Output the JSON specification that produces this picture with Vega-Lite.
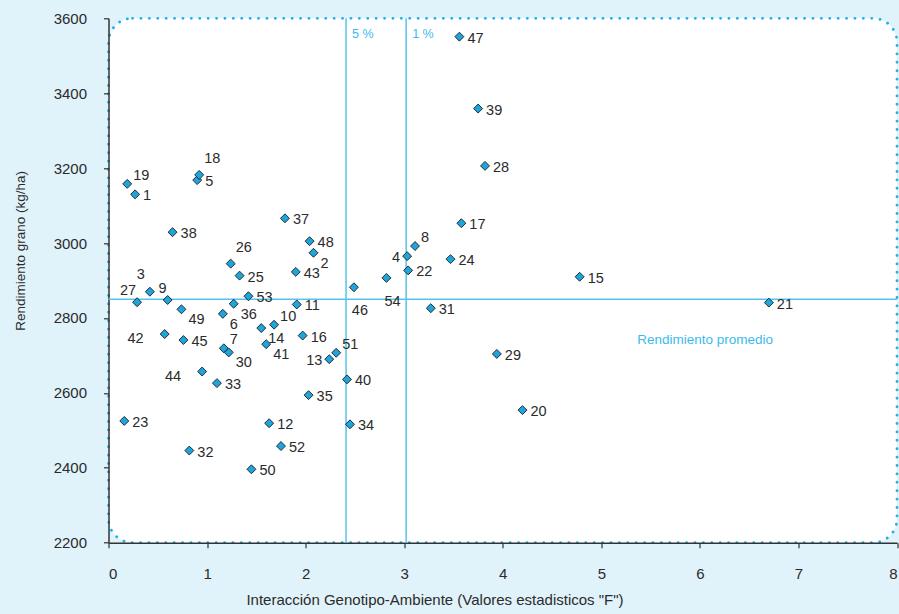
{
  "$schema": "https://vega.github.io/schema/vega-lite/v6.json",
  "width": 788.5,
  "height": 524.4,
  "autosize": "none",
  "padding": {"left": 108.5, "top": 18.3, "right": 2, "bottom": 71.3},
  "background": "#e0f2fa",
  "config": {
    "view": {"fill": "white", "stroke": "#1eb0ea", "strokeWidth": 2.8, "strokeDash": [0.1, 8.3], "strokeCap": "round", "cornerRadius": 24},
    "axis": {"domainColor": "#333333", "domainWidth": 1.5, "tickColor": "#333333", "tickSize": 5, "tickWidth": 1.2, "grid": false, "labelFont": "Liberation Sans", "labelFontSize": 15, "labelColor": "#2b2b2b", "titleFont": "Liberation Sans", "titleFontWeight": "normal", "titleColor": "#2b2b2b"},
    "axisX": {"labelPadding": 19, "titlePadding": 11, "titleX": 326, "titleFontSize": 15},
    "axisY": {"labelPadding": 17, "titlePadding": 26, "titleY": 232, "titleFontSize": 13.5},
    "text": {"font": "Liberation Sans", "fontSize": 14.5, "color": "#2b2b2b", "baseline": "middle"}
  },
  "datasets": {
    "genotipos": [
      {"genotipo": "1", "F": 0.27, "rendimiento": 3130, "posicion": "der"},
      {"genotipo": "2", "F": 2.08, "rendimiento": 2974, "posicion": "abj-der"},
      {"genotipo": "3", "F": 0.42, "rendimiento": 2870, "posicion": "arr-izq2"},
      {"genotipo": "4", "F": 3.03, "rendimiento": 2965, "posicion": "izq"},
      {"genotipo": "5", "F": 0.90, "rendimiento": 3168, "posicion": "der"},
      {"genotipo": "6", "F": 1.16, "rendimiento": 2811, "posicion": "abj-der"},
      {"genotipo": "7", "F": 1.17, "rendimiento": 2719, "posicion": "arr-der"},
      {"genotipo": "8", "F": 3.11, "rendimiento": 2992, "posicion": "arr-der"},
      {"genotipo": "9", "F": 0.60, "rendimiento": 2848, "posicion": "arr-izq"},
      {"genotipo": "10", "F": 1.68, "rendimiento": 2782, "posicion": "arr-der"},
      {"genotipo": "11", "F": 1.91, "rendimiento": 2836, "posicion": "der"},
      {"genotipo": "12", "F": 1.63, "rendimiento": 2519, "posicion": "der"},
      {"genotipo": "13", "F": 2.24, "rendimiento": 2690, "posicion": "izq"},
      {"genotipo": "14", "F": 1.55, "rendimiento": 2773, "posicion": "abj-der"},
      {"genotipo": "15", "F": 4.78, "rendimiento": 2910, "posicion": "der"},
      {"genotipo": "16", "F": 1.97, "rendimiento": 2753, "posicion": "der"},
      {"genotipo": "17", "F": 3.58, "rendimiento": 3053, "posicion": "der"},
      {"genotipo": "18", "F": 0.92, "rendimiento": 3182, "posicion": "arr-der2"},
      {"genotipo": "19", "F": 0.19, "rendimiento": 3158, "posicion": "arr-der"},
      {"genotipo": "20", "F": 4.20, "rendimiento": 2554, "posicion": "der"},
      {"genotipo": "21", "F": 6.70, "rendimiento": 2841, "posicion": "der"},
      {"genotipo": "22", "F": 3.04, "rendimiento": 2927, "posicion": "der"},
      {"genotipo": "23", "F": 0.16, "rendimiento": 2525, "posicion": "der"},
      {"genotipo": "24", "F": 3.47, "rendimiento": 2957, "posicion": "der"},
      {"genotipo": "25", "F": 1.33, "rendimiento": 2913, "posicion": "der"},
      {"genotipo": "26", "F": 1.24, "rendimiento": 2945, "posicion": "arr-der2"},
      {"genotipo": "27", "F": 0.29, "rendimiento": 2842, "posicion": "arr-izq"},
      {"genotipo": "28", "F": 3.82, "rendimiento": 3206, "posicion": "der"},
      {"genotipo": "29", "F": 3.94, "rendimiento": 2704, "posicion": "der"},
      {"genotipo": "30", "F": 1.22, "rendimiento": 2708, "posicion": "abj-der"},
      {"genotipo": "31", "F": 3.27, "rendimiento": 2826, "posicion": "der"},
      {"genotipo": "32", "F": 0.82, "rendimiento": 2446, "posicion": "der"},
      {"genotipo": "33", "F": 1.10, "rendimiento": 2626, "posicion": "der"},
      {"genotipo": "34", "F": 2.45, "rendimiento": 2516, "posicion": "der"},
      {"genotipo": "35", "F": 2.03, "rendimiento": 2594, "posicion": "der"},
      {"genotipo": "36", "F": 1.27, "rendimiento": 2838, "posicion": "abj-der"},
      {"genotipo": "37", "F": 1.79, "rendimiento": 3066, "posicion": "der"},
      {"genotipo": "38", "F": 0.65, "rendimiento": 3029, "posicion": "der"},
      {"genotipo": "39", "F": 3.75, "rendimiento": 3359, "posicion": "der"},
      {"genotipo": "40", "F": 2.42, "rendimiento": 2636, "posicion": "der"},
      {"genotipo": "41", "F": 1.60, "rendimiento": 2730, "posicion": "abj-der"},
      {"genotipo": "42", "F": 0.57, "rendimiento": 2757, "posicion": "izq-lejos"},
      {"genotipo": "43", "F": 1.90, "rendimiento": 2923, "posicion": "der"},
      {"genotipo": "44", "F": 0.95, "rendimiento": 2657, "posicion": "izq-lejos"},
      {"genotipo": "45", "F": 0.76, "rendimiento": 2741, "posicion": "der"},
      {"genotipo": "46", "F": 2.49, "rendimiento": 2882, "posicion": "abj"},
      {"genotipo": "47", "F": 3.56, "rendimiento": 3551, "posicion": "der"},
      {"genotipo": "48", "F": 2.04, "rendimiento": 3005, "posicion": "der"},
      {"genotipo": "49", "F": 0.74, "rendimiento": 2823, "posicion": "abj-der"},
      {"genotipo": "50", "F": 1.45, "rendimiento": 2396, "posicion": "der"},
      {"genotipo": "51", "F": 2.31, "rendimiento": 2707, "posicion": "arr-der"},
      {"genotipo": "52", "F": 1.75, "rendimiento": 2458, "posicion": "der"},
      {"genotipo": "53", "F": 1.42, "rendimiento": 2858, "posicion": "der"},
      {"genotipo": "54", "F": 2.82, "rendimiento": 2907, "posicion": "abj"}
    ],
    "umbrales": [
      {"F": 2.41, "nivel": "5 %"},
      {"F": 3.02, "nivel": "1 %"}
    ],
    "promedio": [
      {"rendimiento": 2850, "etiqueta": "Rendimiento promedio"}
    ]
  },
  "layer": [
    {
      "data": {"name": "umbrales"},
      "mark": {"type": "rule", "color": "#55c3ee", "strokeWidth": 1.5},
      "encoding": {
        "x": {"field": "F", "type": "quantitative", "scale": {"domain": [0, 8], "nice": false, "zero": false}, "title": "Interacción Genotipo-Ambiente (Valores estadisticos \"F\")", "axis": {"values": [0, 1, 2, 3, 4, 5, 6, 7, 8], "format": "d"}}
      }
    },
    {
      "data": {"name": "umbrales"},
      "mark": {"type": "text", "align": "left", "dx": 6, "fontSize": 12.5, "color": "#3dbaec"},
      "encoding": {
        "x": {"field": "F", "type": "quantitative", "scale": {"domain": [0, 8], "nice": false, "zero": false}},
        "y": {"datum": 3558, "type": "quantitative", "scale": {"domain": [2200, 3600], "nice": false, "zero": false}},
        "text": {"field": "nivel"}
      }
    },
    {
      "data": {"name": "promedio"},
      "mark": {"type": "rule", "color": "#55c3ee", "strokeWidth": 1.5},
      "encoding": {
        "y": {"field": "rendimiento", "type": "quantitative", "scale": {"domain": [2200, 3600], "nice": false, "zero": false}, "title": "Rendimiento grano (kg/ha)", "axis": {"values": [2200, 2400, 2600, 2800, 3000, 3200, 3400, 3600], "format": "d"}}
      }
    },
    {
      "data": {"name": "promedio"},
      "mark": {"type": "text", "align": "left", "dy": 41, "fontSize": 13.5, "color": "#3dbaec"},
      "encoding": {
        "x": {"datum": 5.365, "type": "quantitative", "scale": {"domain": [0, 8], "nice": false, "zero": false}},
        "y": {"field": "rendimiento", "type": "quantitative", "scale": {"domain": [2200, 3600], "nice": false, "zero": false}},
        "text": {"field": "etiqueta"}
      }
    },
    {
      "data": {"name": "genotipos"},
      "encoding": {
        "x": {"field": "F", "type": "quantitative", "scale": {"domain": [0, 8], "nice": false, "zero": false}},
        "y": {"field": "rendimiento", "type": "quantitative", "scale": {"domain": [2200, 3600], "nice": false, "zero": false}}
      },
      "layer": [
        {"mark": {"type": "point", "shape": "diamond", "filled": true, "size": 80, "fill": "#1ea5dd", "stroke": "#1b1b1b", "strokeWidth": 0.9, "opacity": 1}},
        {"transform": [{"filter": "datum.posicion === 'der'"}], "mark": {"type": "text", "align": "left", "dx": 8, "dy": 2}, "encoding": {"text": {"field": "genotipo"}}},
        {"transform": [{"filter": "datum.posicion === 'arr-der'"}], "mark": {"type": "text", "align": "left", "dx": 6, "dy": -8}, "encoding": {"text": {"field": "genotipo"}}},
        {"transform": [{"filter": "datum.posicion === 'arr-der2'"}], "mark": {"type": "text", "align": "left", "dx": 5, "dy": -16}, "encoding": {"text": {"field": "genotipo"}}},
        {"transform": [{"filter": "datum.posicion === 'abj-der'"}], "mark": {"type": "text", "align": "left", "dx": 7, "dy": 11}, "encoding": {"text": {"field": "genotipo"}}},
        {"transform": [{"filter": "datum.posicion === 'abj'"}], "mark": {"type": "text", "align": "center", "dx": 6, "dy": 24}, "encoding": {"text": {"field": "genotipo"}}},
        {"transform": [{"filter": "datum.posicion === 'izq'"}], "mark": {"type": "text", "align": "right", "dx": -7, "dy": 2}, "encoding": {"text": {"field": "genotipo"}}},
        {"transform": [{"filter": "datum.posicion === 'izq-lejos'"}], "mark": {"type": "text", "align": "right", "dx": -21, "dy": 5}, "encoding": {"text": {"field": "genotipo"}}},
        {"transform": [{"filter": "datum.posicion === 'arr-izq'"}], "mark": {"type": "text", "align": "right", "dx": -1, "dy": -11}, "encoding": {"text": {"field": "genotipo"}}},
        {"transform": [{"filter": "datum.posicion === 'arr-izq2'"}], "mark": {"type": "text", "align": "right", "dx": -5, "dy": -17}, "encoding": {"text": {"field": "genotipo"}}}
      ]
    }
  ]
}
